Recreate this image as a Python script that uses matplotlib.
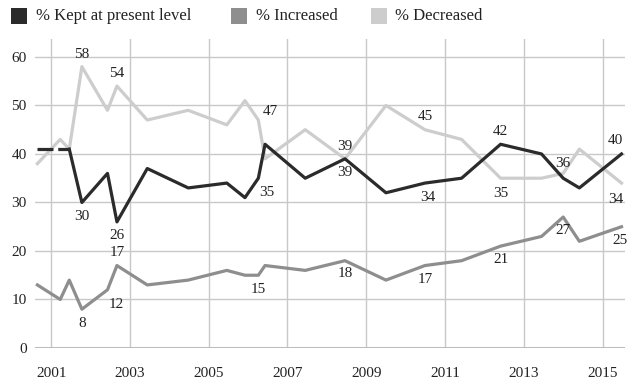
import numpy as np
import matplotlib
matplotlib.use("Agg")
import matplotlib.pyplot as plt
from matplotlib.patches import Rectangle

# survey dates (fractional years) and percentages
dates = [2000.65, 2001.23, 2001.46, 2001.78, 2002.43, 2002.67, 2003.44, 2004.48,
         2005.46, 2005.92, 2006.26, 2006.43, 2007.45, 2008.46, 2009.50, 2010.49,
         2011.42, 2012.41, 2013.45, 2014.00, 2014.41, 2015.48]
kept = [41, np.nan, 41, 30, 36, 26, 37, 33, 34, 31, 35, 42, 35, 39, 32, 34,
        35, 42, 40, 35, 33, 40]
increased = [13, 10, 14, 8, 12, 17, 13, 14, 16, 15, 15, 17, 16, 18, 14, 17,
             18, 21, 23, 27, 22, 25]
decreased = [38, 43, 41, 58, 49, 54, 47, 49, 46, 51, 47, 39, 45, 39, 50, 45,
             43, 35, 35, 36, 41, 34]

series_names = ["% Kept at present level", "% Increased", "% Decreased"]
colors = ["#2b2b2b", "#8e8e8e", "#cdcdcd"]

# (series index, point index, dx px, dy px) for value labels
labels = [
    (0, 3, 0, -14), (0, 5, 0, -14), (0, 10, 8, -14), (0, 13, 0, -14),
    (0, 15, 3, -14), (0, 17, 0, 13), (0, 21, -6, 13),
    (1, 3, 0, -14), (1, 4, 9, -15), (1, 5, 0, 13), (1, 10, 0, -14),
    (1, 13, 0, -13), (1, 15, 0, -14), (1, 17, 0, -13), (1, 19, 0, -13),
    (1, 21, -2, -14),
    (2, 3, 0, 12), (2, 5, 0, 13), (2, 10, 12, 9), (2, 13, 0, 12),
    (2, 15, 0, 13), (2, 17, 0, -15), (2, 19, 0, 10), (2, 21, -6, -16),
]

plt.rcParams["font.family"] = ["Liberation Serif", "DejaVu Serif"]

W, H = 632, 385
fig = plt.figure(figsize=(W / 100, H / 100), dpi=100)
ax = fig.add_axes([0.0554, 0.0961, 0.9336, 0.8026])

x = np.array(dates)
data = [np.array(kept, dtype=float), np.array(increased, dtype=float),
        np.array(decreased, dtype=float)]

ax.plot(x, data[2], color=colors[2], lw=2.3, zorder=3.0)
ax.plot(x, data[1], color=colors[1], lw=2.3, zorder=3.1)

# "kept" has a missing reading: dashed bridge, then solid from there on
ok = ~np.isnan(data[0])
ax.plot(x[ok][:2], data[0][ok][:2], color=colors[0], lw=2.3,
        ls=(0, (5, 1.5)), zorder=3.2)
ax.plot(x[2:], data[0][2:], color=colors[0], lw=2.3, zorder=3.2)

for s, i, dx, dy in labels:
    ax.annotate(f"{int(data[s][i])}", (x[i], data[s][i]), xytext=(dx, dy),
                textcoords="offset pixels", ha="center", va="center",
                fontsize=11, color="#222222", zorder=5)

ax.set_xlim(2000.59, 2015.57)
ax.set_ylim(0, 63.7)
ax.set_xticks(range(2001, 2016, 2))
ax.set_yticks(range(0, 61, 10))
ax.grid(True, color="#c8c8c8", lw=1)
ax.axhline(0, color="#bdbdbd", lw=2.2, zorder=2)
ax.set_axisbelow(True)
for sp in ax.spines.values():
    sp.set_visible(False)
ax.tick_params(length=0, labelsize=11, colors="#222222")
ax.tick_params(axis="x", pad=14)
ax.tick_params(axis="y", pad=6)

# legend drawn by hand (pixel positions from the top-left corner)
for (sx, tx), name, c in zip([(11, 36), (231, 256), (371, 395)], series_names, colors):
    fig.patches.append(Rectangle((sx / W, 1 - 24 / H), 16 / W, 16 / H,
                                 transform=fig.transFigure, facecolor=c,
                                 edgecolor="none"))
    fig.text(tx / W, 1 - 15.5 / H, name, ha="left", va="center",
             fontsize=12, color="#222222")

fig.savefig("out.png", dpi=100)
